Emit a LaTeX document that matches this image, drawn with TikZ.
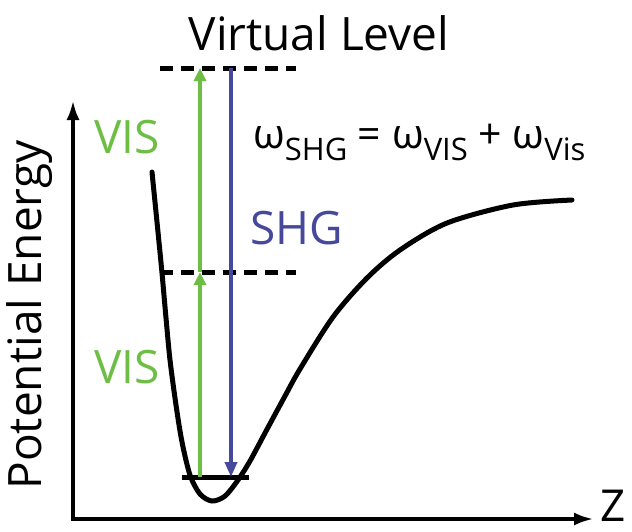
\documentclass[tikz,border=0pt]{standalone}
\usepackage{fontspec}
\setmainfont{Open Sans}
\usetikzlibrary{arrows.meta}
\definecolor{visgreen}{RGB}{110,190,70}
\definecolor{shgblue}{RGB}{70,72,155}
\newcommand\eqsub[1]{\raisebox{-12.5pt}{\fontsize{31}{31}\selectfont #1}}
\begin{document}
\begin{tikzpicture}[x=1pt,y=-1pt,
  lbl/.style={inner sep=0pt, font=\fontsize{46}{46}\selectfont},
  axis/.style={line width=4pt, -{Latex[length=20pt,width=13pt]}},
  level/.style={line width=5pt, dash pattern=on 13pt off 8pt},
  ground/.style={line width=5pt},
  greenarr/.style={visgreen, line width=4pt, -{Triangle[length=13pt,width=12pt]}},
  bluearr/.style={shgblue, line width=4pt, -{Triangle[length=15pt,width=12pt]}},
  curve/.style={line width=5pt, line cap=round}]
\useasboundingbox (0,0) rectangle (632,531);
% axes
\coordinate (O) at (73,519);
\coordinate (ytop) at (73,100);
\coordinate (xend) at (594,519);
\draw[axis] (O) -- (ytop);
\draw[axis] ([xshift=-2pt]O) -- (xend);
\node[lbl, rotate=90] (pe) at (30,315) {Potential Energy};
\node[lbl, font=\fontsize{44}{44}\selectfont] (z) at (613,506) {Z};
% potential curve
\draw[curve] plot[smooth] coordinates {(152,172) (157,222) (162,273) (166,318) (170,360) (176,405) (182,442) (190,475) (200,494) (212,501) (225,496) (238,480) (250,461) (265,433) (285,396) (300,369) (333,317) (367,278) (400,250) (447,223) (513,205) (572,200)};
% levels
\coordinate (top1) at (160,68);
\coordinate (top2) at (296,68);
\coordinate (mid1) at (160,272);
\coordinate (mid2) at (296,272);
\coordinate (gr1) at (182,477);
\coordinate (gr2) at (249,477);
\draw[level] (top1) -- (top2);
\draw[level] (mid1) -- (mid2);
\draw[ground] (gr1) -- (gr2);
% arrows
\coordinate (g0) at (200,477);
\coordinate (g1) at (200,272);
\coordinate (g2) at (200,68);
\coordinate (b0) at (231,68);
\coordinate (b1) at (231,477);
\draw[greenarr] (g0) -- (g1);
\draw[greenarr] (g1) -- (g2);
\draw[bluearr] (b0) -- (b1);
% labels
\node[lbl] (vl) at (319,33) {Virtual Level};
\node[lbl, text=visgreen] (vis1) at (127,137) {VIS};
\node[lbl, text=visgreen] (vis2) at (127,367) {VIS};
\node[lbl, text=shgblue] (shg) at (297,228) {SHG};
\node[inner sep=0pt, anchor=base west] (eq) at (253,148) {\fontsize{41}{41}\selectfont ω\eqsub{SHG} = ω\eqsub{VIS} + ω\eqsub{Vis}};
\end{tikzpicture}
\end{document}
